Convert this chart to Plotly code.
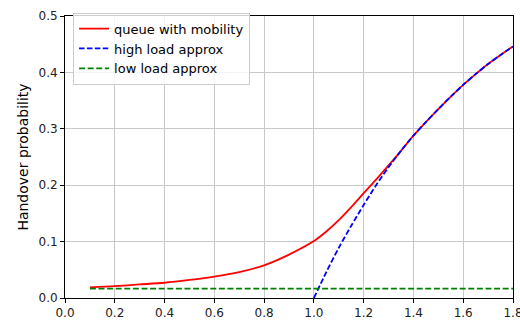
import plotly.graph_objects as go

# Data
x_queue = [0.1, 0.2, 0.3, 0.4, 0.5, 0.6, 0.7, 0.8, 0.9, 1.0, 1.05, 1.1, 1.15, 1.2,
           1.25, 1.3, 1.35, 1.4, 1.45, 1.5, 1.55, 1.6, 1.65, 1.7, 1.75, 1.8]
y_queue = [0.019, 0.021, 0.024, 0.027, 0.032, 0.038, 0.046, 0.058, 0.077, 0.101, 0.118,
           0.138, 0.161, 0.186, 0.210, 0.235, 0.261, 0.288, 0.312, 0.335, 0.357, 0.378,
           0.397, 0.415, 0.431, 0.446]

x_high = [1.0, 1.05, 1.1, 1.15, 1.2, 1.25, 1.3, 1.35, 1.4, 1.45, 1.5, 1.55, 1.6,
          1.65, 1.7, 1.75, 1.8]
y_high = [0.0, 0.046, 0.089, 0.128, 0.165, 0.200, 0.232, 0.261, 0.288, 0.312, 0.335,
          0.357, 0.378, 0.397, 0.415, 0.431, 0.446]

x_low = [0.1, 1.8]
y_low = [0.0167, 0.0167]

x_ticks = [0.0, 0.2, 0.4, 0.6, 0.8, 1.0, 1.2, 1.4, 1.6, 1.8]
y_ticks = [0.0, 0.1, 0.2, 0.3, 0.4, 0.5]

FONT = "DejaVu Sans"
dash = "5.5px,2.4px"

fig = go.Figure()
fig.add_trace(go.Scatter(x=x_queue, y=y_queue, mode="lines", name="queue with mobility",
                         line=dict(color="#ff0000", width=1.8, shape="spline", smoothing=0.8)))
fig.add_trace(go.Scatter(x=x_high, y=y_high, mode="lines", name="high load approx",
                         line=dict(color="#0000ff", width=1.8, dash=dash, shape="spline", smoothing=0.8)))
fig.add_trace(go.Scatter(x=x_low, y=y_low, mode="lines", name="low load approx",
                         line=dict(color="#008000", width=1.8, dash="6px,2.6px")))

axis_common = dict(
    showline=True, mirror=True, linecolor="black", linewidth=1,
    showgrid=True, gridcolor="#c8c8c8", gridwidth=1,
    ticks="outside", ticklen=4, tickcolor="black", tickwidth=1,
    zeroline=False, tickfont=dict(family=FONT, size=12, color="#222"),
    tickformat=".1f",
)

fig.update_layout(
    width=532, height=329,
    margin=dict(l=65, r=19, t=9, b=30),
    paper_bgcolor="white", plot_bgcolor="white",
    font=dict(family=FONT, size=12, color="black"),
    xaxis=dict(range=[0, 1.8], tickvals=x_ticks, **axis_common),
    yaxis=dict(range=[0, 0.5], tickvals=y_ticks,
               title=dict(text="Handover probability", font=dict(family=FONT, size=14),
                          standoff=6),
               **axis_common),
    legend=dict(x=0.018, y=1.012, xanchor="left", yanchor="top",
                bgcolor="rgba(255,255,255,0.8)", bordercolor="#cccccc", borderwidth=1,
                font=dict(family=FONT, size=13, color="black"), itemwidth=30,
                tracegroupgap=0),
    showlegend=True,
)

fig.write_html("out.html", config={"displayModeBar": False},
               post_script="document.body.style.margin='0';document.body.style.overflow='hidden';")
